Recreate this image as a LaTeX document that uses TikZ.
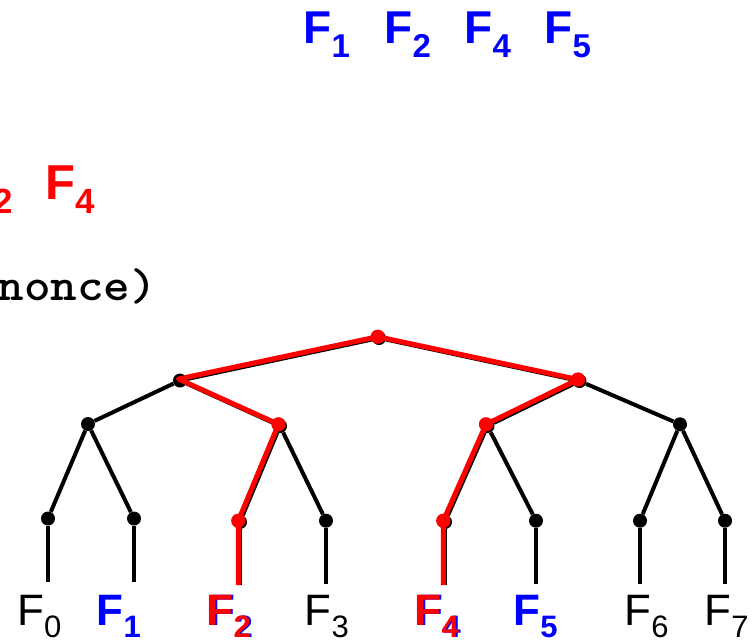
\documentclass[tikz,border=0pt]{standalone}
\usepackage{fontspec}
\setmainfont{Liberation Sans}
\newfontfamily\courfont{Latin Modern Mono Light}
\definecolor{pblue}{RGB}{0,0,255}
\definecolor{pred}{RGB}{255,0,0}
\newcommand\Fsub[4]{{\fontsize{#1}{#1}\selectfont F}\raisebox{-#3pt}{\fontsize{#2}{#2}\selectfont #4}}
\begin{document}
\begin{tikzpicture}[x=1pt,y=-1pt,
  tree/.style={line width=4pt, black, line join=round},
  redtree/.style={line width=5pt, pred, line join=round},
  dot/.style={circle, fill=black, inner sep=0pt, minimum size=14pt},
  reddot/.style={circle, fill=pred, inner sep=0pt, minimum size=14pt},
  lbl/.style={anchor=base west, inner sep=0pt, outer sep=0pt},
  leaflbl/.style={lbl, font=\fontsize{44}{48}\selectfont},
  bleaflbl/.style={lbl, font=\fontsize{44}{48}\selectfont\bfseries},
  toplbl/.style={lbl, text=pblue, font=\bfseries},
  redlbl/.style={lbl, text=pred, font=\bfseries}]
\path[use as bounding box] (0,0) rectangle (754,641);
\clip (0,0) rectangle (754,641);
\fill[white] (0,0) rectangle (754,641);

% top texts
\node[toplbl] (t1) at (303.6,43) {\Fsub{46}{33}{14}{1}};
\node[toplbl] (t2) at (384.6,43) {\Fsub{46}{33}{14}{2}};
\node[toplbl] (t4) at (464.6,43) {\Fsub{46}{33}{14}{4}};
\node[toplbl] (t5) at (544.6,43) {\Fsub{46}{33}{14}{5}};

\node[redlbl] (r2) at (-6,213) {\fontsize{35}{35}\selectfont 2};
\node[redlbl] (r4) at (45.4,199) {\Fsub{49}{35}{14}{4}};

\node[lbl, font=\courfont\bfseries\fontsize{46}{50}\selectfont] (nonce) at (-2.5,300) {\scalebox{1.1}[1]{nonce)}};

% black tree
\node[dot] (r) at (379,338) {};
\node[dot] (a) at (180,380.5) {};
\node[dot] (b) at (579.5,381) {};
\node[dot] (aa) at (88,424) {};
\node[dot] (ab) at (280,426) {};
\node[dot] (ba) at (487.5,426) {};
\node[dot] (bb) at (680,424.3) {};
\node[dot] (l0) at (48,518.5) {};
\node[dot] (l1) at (134,518.5) {};
\node[dot] (l2) at (240,522) {};
\node[dot] (l3) at (326,520.7) {};
\node[dot] (l4) at (445,522) {};
\node[dot] (l5) at (536,520.7) {};
\node[dot] (l6) at (640,520.7) {};
\node[dot] (l7) at (725,520.7) {};
\coordinate (e0) at (48,582);
\coordinate (e1) at (134,582);
\coordinate (e2) at (240,585);
\coordinate (e3) at (326,584);
\coordinate (e4) at (445,585);
\coordinate (e5) at (536,584);
\coordinate (e6) at (640,584);
\coordinate (e7) at (725,584);

\draw[tree] (r) -- (a);
\draw[tree] (r) -- (b);
\draw[tree] (a) -- (aa);
\draw[tree] (a) -- (ab);
\draw[tree] (b) -- (ba);
\draw[tree] (b) -- (bb);
\draw[tree] (aa) -- (l0);
\draw[tree] (aa) -- (l1);
\draw[tree] (ab) -- (l2);
\draw[tree] (ab) -- (l3);
\draw[tree] (ba) -- (l4);
\draw[tree] (ba) -- (l5);
\draw[tree] (bb) -- (l6);
\draw[tree] (bb) -- (l7);
\foreach \i in {0,...,7} { \draw[tree] (l\i) -- (e\i); }

% red path
\coordinate (ar) at (178.5,379);
\coordinate (e2r) at (238.3,585);
\coordinate (e4r) at (443.3,585);
\node[reddot] (rr) at (377.7,336.7) {};
\node[reddot] (brr) at (578,379.5) {};
\node[reddot] (abr) at (278.5,424.3) {};
\node[reddot] (bar) at (486,424.3) {};
\node[reddot] (l2r) at (238.3,520.7) {};
\node[reddot] (l4r) at (443.3,520.7) {};
\draw[redtree] (rr.center) -- (ar) -- (abr.center) -- (l2r.center) -- (e2r);
\draw[redtree] (rr.center) -- (brr.center) -- (bar.center) -- (l4r.center) -- (e4r);
\node[reddot] at (rr) {};
\node[reddot] at (brr) {};
\node[reddot] at (abr) {};
\node[reddot] at (bar) {};
\node[reddot] at (l2r) {};
\node[reddot] at (l4r) {};

% leaf labels
\node[leaflbl] (f0) at (17.2,625) {\Fsub{44}{31}{12}{0}};
\node[bleaflbl, text=pblue] (f1) at (96.8,625) {\Fsub{44}{31}{12}{1}};
\node[bleaflbl, text=pblue] (f2s) at (208.8,625.5) {\Fsub{44}{31}{12}{2}};
\node[bleaflbl, text=pred] (f2) at (206.8,625) {\Fsub{44}{31}{12}{2}};
\node[leaflbl] (f3) at (304.8,625) {\Fsub{44}{31}{12}{3}};
\node[bleaflbl, text=pblue] (f4s) at (416.8,625.5) {\Fsub{44}{31}{12}{4}};
\node[bleaflbl, text=pred] (f4) at (414.8,625) {\Fsub{44}{31}{12}{4}};
\node[bleaflbl, text=pblue] (f5) at (513.5,625) {\Fsub{44}{31}{12}{5}};
\node[leaflbl] (f6) at (624.5,625) {\Fsub{44}{31}{12}{6}};
\node[leaflbl] (f7) at (704.5,625) {\Fsub{44}{31}{12}{7}};
\end{tikzpicture}
\end{document}
